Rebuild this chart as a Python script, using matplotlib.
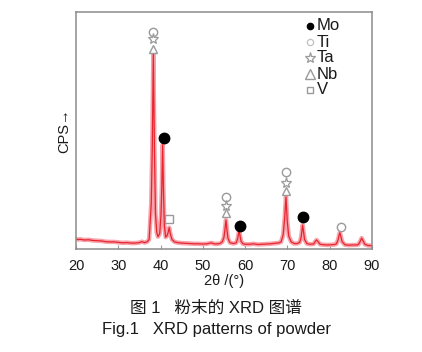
import matplotlib
matplotlib.use("Agg")
import matplotlib.pyplot as plt

plt.rcParams['font.family'] = ['Liberation Sans', 'Noto Sans CJK SC', 'DejaVu Sans']

# --- XRD pattern (2theta, intensity in arbitrary units) ---
two_theta = [20, 20.5, 21, 22, 23, 24, 25, 26, 27, 28, 29, 30, 31, 32, 33, 34, 35, 35.6, 36.2, 36.8,
             37.3, 37.8, 38.05, 38.3, 38.55, 38.8, 39.1, 39.4,
             39.8, 40.1, 40.3, 40.5, 40.7, 40.9, 41.2, 41.5, 41.8, 42.05, 42.3, 42.7, 43.3,
             44, 45, 46, 47, 48, 49, 50, 51, 52, 52.5, 53, 54,
             54.6, 55.0, 55.25, 55.47, 55.7, 55.95, 56.4, 57.2,
             57.9, 58.25, 58.45, 58.6, 58.8, 59.05, 59.5,
             60, 61, 62, 63, 64, 65, 66, 67, 68,
             68.5, 69.0, 69.35, 69.66, 69.95, 70.3, 70.9, 71.6, 72.3,
             72.9, 73.25, 73.45, 73.6, 73.8, 74.05, 74.6, 75.3,
             76.2, 76.6, 76.9, 77.2, 77.7, 78.5, 79.5, 80.5, 81.2,
             81.6, 82.0, 82.2, 82.4, 82.65, 82.95, 83.6, 84.5, 85.5, 86.3,
             86.8, 87.2, 87.56, 87.9, 88.3, 89, 90]
intensity = [4.2, 4.0, 4.1, 3.8, 3.9, 3.6, 3.5, 3.4, 3.1, 3.0, 3.0, 2.8, 2.6, 2.7, 2.5, 2.5, 2.7, 3.1, 2.7, 3.0,
             4.0, 19, 43, 83, 43, 15, 7, 5.2,
             6.5, 14, 26, 44, 24, 10, 5, 5.5, 7, 9, 6.5, 4, 3,
             2.7, 2.5, 2.4, 2.3, 2.2, 2.2, 2.1, 2.2, 2.6, 2.3, 2.1, 2.3,
             3, 5, 8.5, 12.2, 8, 4.5, 2.7, 2.3,
             2.6, 4.5, 6.5, 7.7, 5.5, 3.2, 2.2,
             2.0, 2.0, 2.2, 1.9, 2.0, 2.1, 2.2, 2.4, 2.6,
             3, 6, 13, 22, 12, 5.5, 3, 2.3, 2.3,
             2.8, 5, 8, 10.1, 7.5, 4, 2.3, 2.0,
             2.1, 3.2, 3.8, 3.2, 2.0, 1.8, 1.7, 1.8, 1.9,
             2.2, 4, 5.7, 6.9, 5.2, 3, 1.8, 1.6, 1.7, 1.7,
             1.9, 3.2, 4.6, 3.4, 2.0, 1.5, 1.4]

# --- phase markers above the peaks ---
mo_x = [40.8, 58.8, 73.7]
mo_y = [46.8, 9.7, 13.5]
ti_x = [38.2, 55.5, 69.65, 82.7]
ti_y = [91.6, 21.9, 32.5, 9.3]
ta_x = [38.2, 55.5, 69.65]
ta_y = [88.6, 18.1, 27.8]
nb_x = [38.2, 55.5, 69.65]
nb_y = [84.4, 15.2, 24.5]
v_x = [42.0]
v_y = [12.7]

legend_labels = ["Mo", "Ti", "Ta", "Nb", "V"]
legend_y = [94.1, 87.3, 80.6, 73.8, 67.1]

GRAY = "#9a9a9a"
TXT = "#1a1a1a"

fig = plt.figure(figsize=(4.22, 3.52), dpi=100)
ax = fig.add_axes([0.180, 0.2926, 0.7015, 0.6734])

ax.plot(two_theta, intensity, color="#f6a3ab", lw=3.2, solid_joinstyle="round")
ax.plot(two_theta, intensity, color="#e8242e", lw=0.9)

ax.plot(mo_x, mo_y, "o", ms=7.5, mfc="black", mec="black", ls="none")
ax.plot(ti_x, ti_y, "o", ms=6, mfc="white", mec=GRAY, mew=1.0, ls="none")
ax.plot(ta_x, ta_y, "*", ms=8, mfc="white", mec=GRAY, mew=0.9, ls="none")
ax.plot(nb_x, nb_y, "^", ms=6, mfc="white", mec=GRAY, mew=1.0, ls="none")
ax.plot(v_x, v_y, "s", ms=6, mfc="white", mec=GRAY, mew=1.0, ls="none")

# legend drawn by hand at the top right
leg_style = [dict(marker="o", ms=4.5, mfc="black", mec="black"),
             dict(marker="o", ms=4.5, mfc="white", mec="#c0c0c0", mew=0.9),
             dict(marker="*", ms=8, mfc="white", mec=GRAY, mew=0.9),
             dict(marker="^", ms=7, mfc="white", mec=GRAY, mew=1.0),
             dict(marker="s", ms=5, mfc="white", mec=GRAY, mew=1.0)]
for lab, yy, st in zip(legend_labels, legend_y, leg_style):
    ax.plot([75.4], [yy], ls="none", **st)
    ax.text(76.9, yy, lab, fontsize=12, color=TXT, va="center", ha="left")

ax.set_xlim(20, 90)
ax.set_ylim(0, 100)
ax.set_xticks(range(20, 91, 10))
ax.set_yticks([])
ax.tick_params(axis="x", direction="in", length=3, color=GRAY, labelsize=10.5,
               labelcolor=TXT, pad=7)
for sp in ax.spines.values():
    sp.set_color("#8c8c8c")
    sp.set_linewidth(1.1)

ax.set_xlabel("2θ /(°)", fontsize=10.5, color=TXT, labelpad=1)
fig.text(0.152, 0.630, "CPS→", rotation=90, fontsize=10.5, color=TXT, ha="center", va="center")

fig.text(0.512, 0.125, "图 1   粉末的 XRD 图谱", fontsize=12, color=TXT, ha="center", va="center")
fig.text(0.512, 0.0653, "Fig.1   XRD patterns of powder", fontsize=12, color=TXT, ha="center", va="center")

fig.savefig("out.png", dpi=100)
